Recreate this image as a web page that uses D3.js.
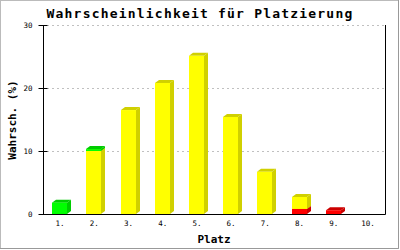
<!DOCTYPE html>
<html>
<head>
<meta charset="utf-8">
<script src="https://d3js.org/d3.v7.min.js"></script>
<style>
  body { margin:0; background:#fff; }
  text { font-family:"DejaVu Sans Mono", monospace; }
</style>
</head>
<body>
<svg width="400" height="250"></svg>
<script>
var places = ['1.', '2.', '3.', '4.', '5.', '6.', '7.', '8.', '9.', '10.'];
var red    = [0, 0, 0, 0, 0, 0, 0, 0.8, 0.6, 0];
var yellow = [0, 10, 16.5, 20.8, 25.1, 15.4, 6.7, 1.9, 0, 0];
var green  = [1.8, 0.3, 0, 0, 0, 0, 0, 0, 0, 0];
var yTicks = [0, 10, 20, 30];

var svg = d3.select('svg');

// frame
svg.append('rect').attr('x', 0.5).attr('y', 0.5).attr('width', 398).attr('height', 248)
   .attr('fill', 'none').attr('stroke', '#bbb');
svg.append('path').attr('d', 'M398.5,0V248.5H0').attr('fill', 'none').attr('stroke', '#999');

var x = d3.scaleBand().domain(places).range([43, 385]);
var y = d3.scaleLinear().domain([0, 30]).range([214, 25]);

// grid
svg.append('g').selectAll('line')
   .data(yTicks.filter(function(d) { return d > 0; }))
   .enter().append('line')
   .attr('x1', 47).attr('x2', 385)
   .attr('y1', function(d) { return Math.round(y(d)) + 0.5; })
   .attr('y2', function(d) { return Math.round(y(d)) + 0.5; })
   .attr('stroke', '#c0c0c0').attr('stroke-dasharray', '2,3');

// stacked 3d bars
var series = [
  { name: 'red', vals: red, front: '#ff0000', shade: '#cc0000' },
  { name: 'yellow', vals: yellow, front: '#ffff00', shade: '#d0d000' },
  { name: 'green', vals: green, front: '#00ff00', shade: '#00cc00' }
];
var bw = 15, dx = 4, dy = 3;
var segs = [];
places.forEach(function(p, i) {
  var base = 0;
  series.forEach(function(s) {
    var v = s.vals[i];
    if (v > 0) segs.push({ p: p, y0: base, y1: base + v, s: s });
    base += v;
  });
});
var g = svg.append('g');
segs.forEach(function(d) {
  var x0 = Math.round(x(d.p) + x.bandwidth() / 2) - 8;
  var top = y(d.y1), bot = y(d.y0);
  // side
  g.append('path')
   .attr('d', 'M' + (x0 + bw) + ',' + bot + 'L' + (x0 + bw + dx) + ',' + (bot - dy) +
         'L' + (x0 + bw + dx) + ',' + (top - dy) + 'L' + (x0 + bw) + ',' + top + 'Z')
   .attr('fill', d.s.shade);
  // top
  g.append('path')
   .attr('d', 'M' + x0 + ',' + top + 'L' + (x0 + dx) + ',' + (top - dy) +
         'L' + (x0 + bw + dx) + ',' + (top - dy) + 'L' + (x0 + bw) + ',' + top + 'Z')
   .attr('fill', d.s.shade);
  // front
  g.append('rect').attr('x', x0).attr('y', top)
   .attr('width', bw).attr('height', bot - top)
   .attr('fill', d.s.front);
});

// axes
var yAxis = svg.append('g').attr('transform', 'translate(43.5,0)')
   .call(d3.axisLeft(y).tickValues(yTicks).tickSize(5).tickPadding(6));
yAxis.select('.domain').remove();
yAxis.selectAll('.tick line').attr('x2', -5).attr('x1', 4).attr('stroke', '#000');
yAxis.selectAll('.tick text').attr('font-family', '"DejaVu Sans Mono", monospace')
   .attr('font-size', 7.5).attr('fill', '#000');

var xAxis = svg.append('g').attr('transform', 'translate(0,214)')
   .call(d3.axisBottom(x).tickSize(0).tickPadding(7));
xAxis.select('.domain').remove();
xAxis.selectAll('.tick text').attr('font-family', '"DejaVu Sans Mono", monospace')
   .attr('font-size', 7.5).attr('fill', '#000');

svg.append('path').attr('d', 'M43.5,25V214.5H385.5V25')
   .attr('fill', 'none').attr('stroke', '#000');

// titles
svg.append('text').attr('x', 200).attr('y', 18)
   .attr('text-anchor', 'middle').attr('font-size', 13).attr('font-weight', 'bold')
   .attr('letter-spacing', 1.2)
   .text('Wahrscheinlichkeit für Platzierung');
svg.append('text').attr('x', 214).attr('y', 243)
   .attr('text-anchor', 'middle').attr('font-size', 11).attr('font-weight', 'bold')
   .text('Platz');
svg.append('text').attr('transform', 'translate(16,120) rotate(-90)')
   .attr('text-anchor', 'middle').attr('font-size', 11).attr('font-weight', 'bold')
   .text('Wahrsch. (%)');
</script>
</body>
</html>
